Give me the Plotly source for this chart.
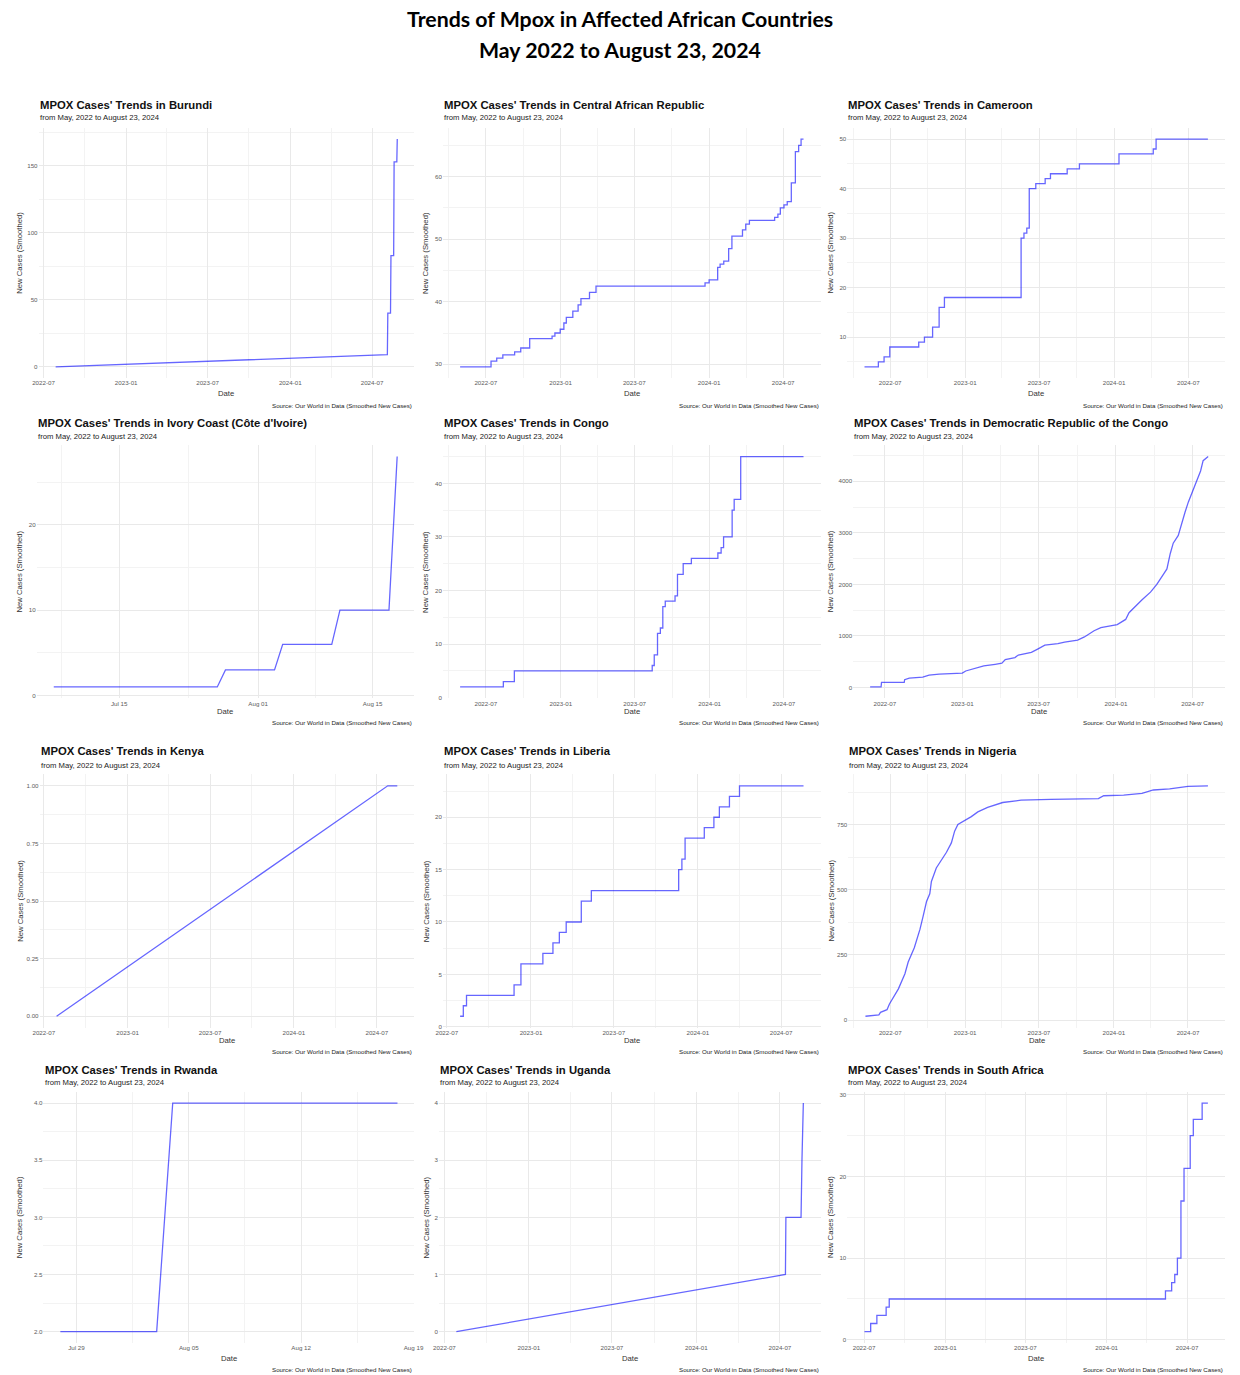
import plotly.graph_objects as go
import pandas as pd

W, H = 1240, 1375

# ------------------------------------------------------------------ data
countries = [
    "Burundi", "Central African Republic", "Cameroon",
    "Ivory Coast (Côte d'Ivoire)", "Congo", "Democratic Republic of the Congo",
    "Kenya", "Liberia", "Nigeria",
    "Rwanda", "Uganda", "South Africa",
]

burundi_dates = ["2022-07-28", "2024-08-04", "2024-08-05", "2024-08-11", "2024-08-12",
                 "2024-08-18", "2024-08-19", "2024-08-25", "2024-08-26"]
burundi_values = [0, 9, 40, 40, 83, 83, 153, 153, 170]

car_dates = ["2022-04-29", "2022-07-14", "2022-07-28", "2022-08-12", "2022-09-10", "2022-09-25",
             "2022-10-17", "2022-12-11", "2022-12-18", "2022-12-31", "2023-01-09", "2023-01-15",
             "2023-01-31", "2023-02-13", "2023-02-20", "2023-03-13", "2023-03-29", "2023-12-22",
             "2024-01-01", "2024-01-22", "2024-01-28", "2024-02-06", "2024-02-18", "2024-02-26",
             "2024-03-23", "2024-03-31", "2024-04-09", "2024-06-10", "2024-06-18", "2024-06-24",
             "2024-07-03", "2024-07-11", "2024-07-21", "2024-07-31", "2024-08-08", "2024-08-14",
             "2024-08-20"]
car_values = [29.6, 30.5, 31, 31.5, 32, 32.6, 34.1, 34.5, 35, 35.6, 36.6, 37.5, 38.5, 39.5, 40.5,
              41.5, 42.5, 43, 43.5, 45.5, 46, 46.5, 48.5, 50.5, 51.5, 52.4, 53, 53.5, 54, 55,
              55.5, 56, 59, 64, 65, 66, 66]

cameroon_dates = ["2022-04-29", "2022-06-02", "2022-06-16", "2022-06-30", "2022-09-09", "2022-09-23",
                  "2022-10-13", "2022-10-29", "2022-11-11", "2023-05-18", "2023-05-25", "2023-06-01",
                  "2023-06-07", "2023-06-23", "2023-07-16", "2023-07-29", "2023-09-08", "2023-10-08",
                  "2024-01-13", "2024-04-06", "2024-04-13", "2024-08-18"]
cameroon_values = [4, 5, 6, 8, 9, 10, 12, 16, 18, 30, 31, 32, 40, 41, 42, 43, 44, 45, 47, 48, 50, 50]

ivory_dates = ["2024-07-07", "2024-07-27", "2024-07-28", "2024-08-03", "2024-08-04",
               "2024-08-10", "2024-08-11", "2024-08-17", "2024-08-18"]
ivory_values = [1, 1, 3, 3, 6, 6, 10, 10, 28]

congo_dates = ["2022-04-29", "2022-08-13", "2022-09-09", "2023-08-13", "2023-08-18", "2023-08-26",
               "2023-09-02", "2023-09-08", "2023-09-14", "2023-10-08", "2023-10-14", "2023-10-28",
               "2023-11-17", "2024-01-21", "2024-01-29", "2024-02-04", "2024-02-25", "2024-03-01",
               "2024-03-17", "2024-08-18"]
congo_values = [2, 3, 5, 6, 8, 12, 13, 17, 18, 19, 23, 25, 26, 27, 28, 30, 35, 37, 45, 45]

drc_dates = ["2022-05-27", "2022-06-22", "2022-06-23", "2022-08-16", "2022-08-17", "2022-08-28",
             "2022-09-29", "2022-10-14", "2022-11-07", "2023-01-01", "2023-01-09", "2023-02-02",
             "2023-02-21", "2023-03-20", "2023-04-05", "2023-04-13", "2023-05-06", "2023-05-14",
             "2023-06-14", "2023-06-30", "2023-07-16", "2023-08-16", "2023-09-01", "2023-10-02",
             "2023-10-18", "2023-11-10", "2023-11-26", "2024-01-04", "2024-01-24", "2024-02-01",
             "2024-02-13", "2024-03-03", "2024-03-23", "2024-04-07", "2024-04-23", "2024-05-01",
             "2024-05-09", "2024-05-16", "2024-05-28", "2024-06-05", "2024-06-13", "2024-06-21",
             "2024-07-01", "2024-07-10", "2024-07-20", "2024-07-26", "2024-08-07"]
drc_values = [10, 10, 100, 100, 150, 180, 200, 240, 260, 280, 320, 380, 420, 450, 470, 540, 580,
              630, 680, 750, 820, 850, 880, 920, 980, 1100, 1160, 1220, 1320, 1450, 1550, 1700,
              1850, 2000, 2200, 2300, 2600, 2800, 2950, 3200, 3400, 3600, 3800, 4000, 4200, 4400,
              4480]

kenya_dates = ["2022-07-29", "2024-07-25", "2024-08-15"]
kenya_values = [0, 1, 1]

liberia_dates = ["2022-07-30", "2022-08-06", "2022-08-13", "2022-11-25", "2022-12-10", "2023-01-27",
                 "2023-02-18", "2023-03-04", "2023-03-19", "2023-04-21", "2023-05-13", "2023-11-20",
                 "2023-11-27", "2023-12-04", "2024-01-15", "2024-02-05", "2024-02-17", "2024-03-10",
                 "2024-04-01", "2024-08-19"]
liberia_values = [1, 2, 3, 4, 6, 7, 8, 9, 10, 12, 13, 15, 16, 18, 19, 20, 21, 22, 23, 23]

nigeria_dates = ["2022-05-01", "2022-06-03", "2022-06-07", "2022-06-23", "2022-06-29", "2022-07-21",
                 "2022-08-06", "2022-08-14", "2022-08-29", "2022-09-12", "2022-09-20", "2022-09-28",
                 "2022-10-06", "2022-10-10", "2022-10-22", "2022-11-04", "2022-11-16", "2022-11-28",
                 "2022-12-06", "2022-12-14", "2022-12-30", "2023-01-16", "2023-02-01", "2023-02-25",
                 "2023-04-03", "2023-05-18", "2023-07-30", "2023-11-24", "2023-12-07", "2024-01-25",
                 "2024-03-10", "2024-04-07", "2024-05-17", "2024-07-01", "2024-08-19"]
nigeria_values = [15, 20, 30, 40, 62, 120, 178, 223, 278, 349, 401, 455, 485, 532, 584, 616, 644,
                  680, 725, 751, 764, 781, 799, 816, 835, 844, 847, 850, 861, 863, 870, 883, 887,
                  897, 899]

rwanda_dates = ["2024-07-28", "2024-08-03", "2024-08-04", "2024-08-18"]
rwanda_values = [2, 2, 4, 4]

uganda_dates = ["2022-07-27", "2024-07-13", "2024-07-14", "2024-08-16", "2024-08-18", "2024-08-21"]
uganda_values = [0, 1, 2, 2, 3, 4]

south_africa_dates = ["2022-07-02", "2022-07-16", "2022-07-30", "2022-08-20", "2022-08-27",
                      "2024-05-13", "2024-05-27", "2024-06-03", "2024-06-09", "2024-06-17",
                      "2024-06-24", "2024-07-08", "2024-07-15", "2024-08-04", "2024-08-17"]
south_africa_values = [1, 2, 3, 4, 5, 6, 7, 8, 10, 17, 21, 25, 27, 29, 29]

series_dates = [burundi_dates, car_dates, cameroon_dates, ivory_dates, congo_dates, drc_dates,
                kenya_dates, liberia_dates, nigeria_dates, rwanda_dates, uganda_dates,
                south_africa_dates]
series_values = [burundi_values, car_values, cameroon_values, ivory_values, congo_values,
                 drc_values, kenya_values, liberia_values, nigeria_values, rwanda_values,
                 uganda_values, south_africa_values]

main_title = "Trends of Mpox in Affected African Countries"
main_subtitle = "May 2022 to August 23, 2024"
panel_subtitle = "from May, 2022 to August 23, 2024"
caption = "Source: Our World in Data (Smoothed New Cases)"
x_title = "Date"
y_title = "New Cases (Smoothed)"

# ------------------------------------------------------------------ layout / style
line_shapes = ["linear", "hv", "hv", "linear", "hv", "linear",
               "linear", "hv", "linear", "linear", "linear", "hv"]
y_dticks = [50, 10, 10, 10, 10, 1000, 0.25, 5, 250, 0.5, 1, 10]
y_formats = ["d", "d", "d", "d", "d", "d", ".2f", "d", "d", ".1f", "d", "d"]
x_modes = ["m6", "m6", "m6", "ivory", "m6", "m6", "m6", "m6", "m6", "week", "m6", "m6"]

rows_y = [(127, 378), (445, 699), (775, 1029), (1093, 1345)]
title_y = [104, 423, 752, 1071]
sub_y = [117, 436, 766, 1084]
date_y = [393, 712, 1042, 1360]
cap_y = [405, 723, 1053, 1371]
col_right = [413, 825, 1235]
ytitle_x = [13, 425, 835]
lefts = [32, 442, 852, 30, 442, 858, 33, 442, 853, 37, 438, 852]

FONT = "Liberation Sans, Arial, Helvetica, sans-serif"
TICK_FONT = dict(family=FONT, size=6.2, color="#5c5c5c")
LINE_COLOR = "rgba(0,0,255,0.6)"
GRID = "#e9e9e9"
MINOR_GRID = "#f3f3f3"


def px_x(v):
    return v / W


def px_y(v):
    return 1 - v / H


def expand_dates(dates):
    d = pd.to_datetime(pd.Series(dates))
    lo, hi = d.min(), d.max()
    pad = (hi - lo) * 0.05
    return [(lo - pad).strftime("%Y-%m-%d %H:%M:%S"), (hi + pad).strftime("%Y-%m-%d %H:%M:%S")]


def expand_vals(vals):
    lo, hi = min(vals), max(vals)
    pad = (hi - lo) * 0.05
    return [lo - pad, hi + pad]


fig = go.Figure()
annotations = []
layout = {}
DAY_MS = 86400000

for i, name in enumerate(countries):
    r, c = divmod(i, 3)
    n = i + 1
    xa = "x" if n == 1 else f"x{n}"
    ya = "y" if n == 1 else f"y{n}"
    fig.add_trace(go.Scatter(
        x=series_dates[i], y=series_values[i], mode="lines",
        line=dict(color=LINE_COLOR, width=1.3, shape=line_shapes[i]),
        xaxis=xa, yaxis=ya, hoverinfo="x+y", showlegend=False,
    ))
    left, right = lefts[i], col_right[c]
    top, bottom = rows_y[r]

    xax = dict(
        domain=[px_x(left), px_x(right)], anchor=ya, type="date",
        range=expand_dates(series_dates[i]),
        showgrid=True, gridcolor=GRID, gridwidth=0.8, zeroline=False, showline=False,
        ticks="", tickfont=TICK_FONT,
    )
    if x_modes[i] == "m6":
        xax.update(tick0="2022-01-01", dtick="M6", tickformat="%Y-%m",
                   minor=dict(showgrid=True, gridcolor=MINOR_GRID, gridwidth=0.6,
                              tick0="2022-01-01", dtick="M3"))
    elif x_modes[i] == "ivory":
        xax.update(tickmode="array", tickvals=["2024-07-15", "2024-08-01", "2024-08-15"],
                   tickformat="%b %d",
                   minor=dict(showgrid=True, gridcolor=MINOR_GRID, gridwidth=0.6,
                              tickmode="array",
                              tickvals=["2024-07-08", "2024-07-23 12:00", "2024-08-08"]))
    else:
        xax.update(tick0="2024-07-29", dtick=7 * DAY_MS, tickformat="%b %d",
                   minor=dict(showgrid=True, gridcolor=MINOR_GRID, gridwidth=0.6,
                              tick0="2024-07-29", dtick=3.5 * DAY_MS))

    yax = dict(
        domain=[px_y(bottom), px_y(top)], anchor=xa,
        range=expand_vals(series_values[i]),
        dtick=y_dticks[i], tick0=0, tickformat=y_formats[i],
        showgrid=True, gridcolor=GRID, gridwidth=0.8, zeroline=False, showline=False,
        ticks="", tickfont=TICK_FONT,
        minor=dict(showgrid=True, gridcolor=MINOR_GRID, gridwidth=0.6,
                   dtick=y_dticks[i] / 2, tick0=0),
    )
    layout["xaxis" if n == 1 else f"xaxis{n}"] = xax
    layout["yaxis" if n == 1 else f"yaxis{n}"] = yax

    annotations.append(dict(
        text=f"<b>MPOX Cases' Trends in {name}</b>", x=px_x(left - 1), y=px_y(title_y[r]),
        xref="paper", yref="paper", xanchor="left", yanchor="middle", showarrow=False,
        font=dict(family=FONT, size=11.3, color="#111111")))
    annotations.append(dict(
        text=panel_subtitle, x=px_x(left - 1), y=px_y(sub_y[r]),
        xref="paper", yref="paper", xanchor="left", yanchor="middle", showarrow=False,
        font=dict(family=FONT, size=7.7, color="#222222")))
    annotations.append(dict(
        text=x_title, x=px_x((left + right) / 2), y=px_y(date_y[r]),
        xref="paper", yref="paper", xanchor="center", yanchor="middle", showarrow=False,
        font=dict(family=FONT, size=7.7, color="#333333")))
    annotations.append(dict(
        text=y_title, x=px_x(ytitle_x[c]), y=px_y((top + bottom) / 2), textangle=-90,
        xref="paper", yref="paper", xanchor="center", yanchor="middle", showarrow=False,
        font=dict(family=FONT, size=7.7, color="#333333")))
    annotations.append(dict(
        text=caption, x=px_x(right), y=px_y(cap_y[r]),
        xref="paper", yref="paper", xanchor="right", yanchor="middle", showarrow=False,
        font=dict(family=FONT, size=6.2, color="#222222")))

annotations.append(dict(
    text=f"<b>{main_title}</b>", x=px_x(622), y=px_y(18), xref="paper", yref="paper",
    xanchor="center", yanchor="middle", showarrow=False,
    font=dict(family="Lato, Open Sans, sans-serif", size=21.3, color="#000000")))
annotations.append(dict(
    text=f"<b>{main_subtitle}</b>", x=px_x(622), y=px_y(49), xref="paper", yref="paper",
    xanchor="center", yanchor="middle", showarrow=False,
    font=dict(family="Lato, Open Sans, sans-serif", size=21.3, color="#000000")))

fig.update_layout(
    width=W, height=H, margin=dict(l=0, r=0, t=0, b=0),
    paper_bgcolor="white", plot_bgcolor="white", showlegend=False,
    annotations=annotations, **layout,
)

# place the figure at the page's top-left corner (no default body margin), no mode bar
fig.write_html("out.html", post_script="document.body.style.margin='0';",
               config={"displayModeBar": False})
